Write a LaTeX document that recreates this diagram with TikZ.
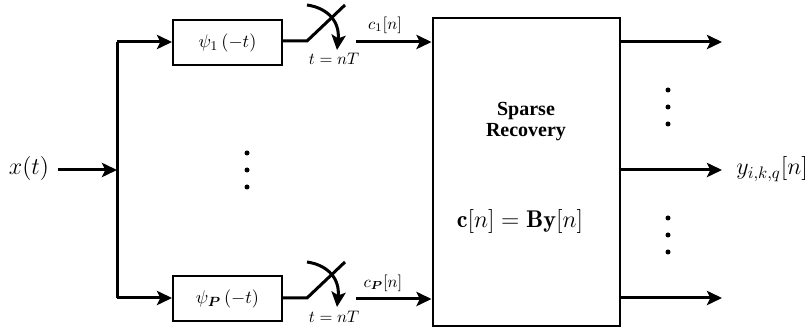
\documentclass[tikz,border=0pt]{standalone}
\usepackage{amsmath}
\usepackage{fontspec}
\newfontfamily\timesbf{Liberation Serif}
\usetikzlibrary{arrows.meta}
\tikzset{
  wire/.style={line width=1.8pt},
  tip/.style={-{Stealth[length=9pt,width=8.5pt,inset=2pt]}},
  arr/.style={wire,tip},
  filt/.style={draw,line width=1.2pt,minimum width=65.4pt,minimum height=27pt,inner sep=0pt,font=\fontsize{11}{12}\selectfont},
  bigbox/.style={draw,line width=1.2pt,minimum width=112.2pt,minimum height=184.8pt,inner sep=0pt},
  lbl/.style={inner sep=0pt,font=\fontsize{10}{12}\selectfont},
  dot/.style={circle,fill,inner sep=0pt,minimum size=3pt}
}
\begin{document}
\begin{tikzpicture}[x=0.6pt,y=-0.6pt]
\useasboundingbox (0,0) rectangle (806,334);
% input
\node[inner sep=0pt,font=\fontsize{15}{17}\selectfont] (x) at (29,169) {$x(t)$};
\coordinate (in0) at (58,170);
\coordinate (bt) at (117,42);
\coordinate (bm) at (117,170);
\coordinate (bb) at (117,298);
\draw[arr] (in0) -- (bm);
\draw[wire] (bt) -- (bb);
% filters
\node[filt] (f1) at (227.5,43) {$\psi_1\,(-t)$};
\node[filt] (fP) at (227.5,299) {$\psi_{\boldsymbol{P}}\,(-t)$};
\draw[arr] (bt) -- (f1.west |- bt);
\draw[arr] (bb) -- (fP.west |- bb);
% middle dots
\node[dot] (d1) at (247,153) {};
\node[dot] (d2) at (247,170) {};
\node[dot] (d3) at (247,187) {};
% big box
\node[bigbox] (R) at (526,172) {};
\node[inner sep=0pt,align=center,font=\timesbf\bfseries\fontsize{12}{12.6}\selectfont] (Rt) at (526,122) {Sparse\\Recovery};
\node[inner sep=0pt,font=\fontsize{14.5}{16}\selectfont] (Rq) at (520,222) {$\mathbf{c}[n]=\mathbf{B}\mathbf{y}[n]$};
% top switch
\coordinate (s1a) at (307,41);
\coordinate (s1b) at (345,5);
\coordinate (c1a) at (307,5);
\coordinate (c1b) at (337,50);
\coordinate (a1) at (356,42);
\draw[wire] (f1.east |- s1a) -- (s1a) -- (s1b);
\draw[wire,tip] (c1a) .. controls (328,8) and (340,22) .. (c1b);
\node[lbl] (t1) at (334,59) {$t=nT$};
\node[lbl] (cl1) at (385,25) {$c_{1}[n]$};
\draw[arr] (a1) -- (R.west |- a1);
% bottom switch
\coordinate (sPa) at (307,298);
\coordinate (sPb) at (345,262);
\coordinate (cPa) at (307,262);
\coordinate (cPb) at (337,307);
\coordinate (aP) at (356,299);
\draw[wire] (fP.east |- sPa) -- (sPa) -- (sPb);
\draw[wire,tip] (cPa) .. controls (328,265) and (340,279) .. (cPb);
\node[lbl] (tP) at (334,317) {$t=nT$};
\node[lbl] (clP) at (383,283) {$c_{\boldsymbol{P}}[n]$};
\draw[arr] (aP) -- (R.west |- aP);
% outputs
\coordinate (o1) at (722,42);
\coordinate (o2) at (722,170);
\coordinate (o3) at (722,298);
\draw[arr] (R.east |- o1) -- (o1);
\draw[arr] (R.east |- o2) -- (o2);
\draw[arr] (R.east |- o3) -- (o3);
\node[inner sep=0pt,anchor=west,font=\fontsize{14.4}{16}\selectfont] (y) at (736,169) {$y_{i,k,q}[n]$};
\node[dot] (e1) at (668,90) {};
\node[dot] (e2) at (668,107) {};
\node[dot] (e3) at (668,124) {};
\node[dot] (e4) at (668,218) {};
\node[dot] (e5) at (668,235) {};
\node[dot] (e6) at (668,252) {};
\end{tikzpicture}
\end{document}
